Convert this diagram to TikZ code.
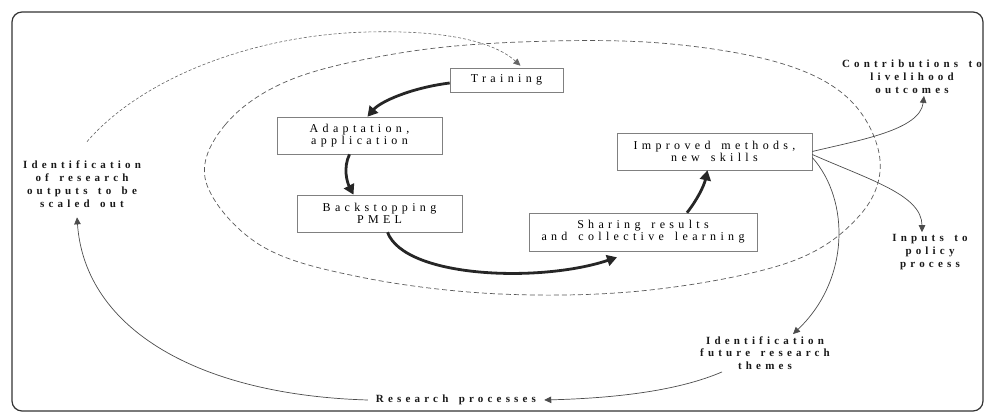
\documentclass[tikz,border=0pt]{standalone}
\usepackage{fontspec}
\setmainfont{Liberation Serif}
\newfontfamily\boxfont[LetterSpace=36,WordSpace=1.5]{Liberation Serif}
\newfontfamily\lblfont[LetterSpace=38,WordSpace=1.5]{Liberation Serif}
\usetikzlibrary{arrows.meta}
\begin{document}
\begin{tikzpicture}[x=1pt,y=-1pt,
  stepbox/.style={draw=black!50, line width=0.6pt, align=center, inner sep=0pt,
    font={\boxfont\fontsize{12}{12}\selectfont}, text=black},
  lbl/.style={align=center, inner sep=2pt,
    font={\lblfont\bfseries\fontsize{11}{12.8}\selectfont}, text=black!90},
  bigarrow/.style={line width=2.8pt, black!85, -{Triangle[length=10pt,width=11pt]}},
  thinarrow/.style={line width=0.7pt, black!70, -{Triangle[length=7pt,width=6.5pt]}},
  ringline/.style={line width=0.7pt, black!65, dash pattern=on 5pt off 3pt},
  outerline/.style={line width=0.6pt, black!60, dash pattern=on 3pt off 2pt, -{Triangle[length=7pt,width=6.5pt]}}
]
\useasboundingbox (0,0) rectangle (985,414);
% frame
\draw[line width=1.2pt, black!80, rounded corners=10pt] (12,12) rectangle (983,411);

% inner dashed ring
\draw[ringline] plot[smooth cycle, tension=0.6] coordinates {
  (206,182) (225,125) (290,80) (400,53) (520,42) (660,43) (780,63) (850,100)
  (880,160) (860,215) (790,262) (650,290) (500,294) (360,277) (260,245)};

% boxes
\node[stepbox, minimum width=113pt, minimum height=24pt] (train) at (506.5,80) {Training};
\node[stepbox, minimum width=165pt, minimum height=37pt] (adapt) at (359.5,135.5) {Adaptation,\\application};
\node[stepbox, minimum width=165pt, minimum height=37pt] (back) at (379.5,213.5) {Backstopping\\PMEL};
\node[stepbox, minimum width=228pt, minimum height=38pt] (share) at (643,232) {Sharing results\\and collective learning};
\node[stepbox, minimum width=195pt, minimum height=37pt] (impr) at (714.5,151.5) {Improved methods,\\new skills};

% labels
\node[lbl] (idr) at (82,184) {Identification\\of research\\outputs to be\\scaled out};
\node[lbl] (contrib) at (912,77) {Contributions to\\livelihood\\outcomes};
\node[lbl] (inputs) at (930,252) {Inputs to\\policy\\process};
\node[lbl] (future) at (765,353) {Identification\\future research\\themes};
\node[lbl, inner xsep=8pt] (rp) at (456,400) {Research processes};

% thick cycle arrows
\draw[bigarrow] ([yshift=-3pt]train.west) .. controls (410,88) and (380,102) .. ([xshift=8pt]adapt.north);
\draw[bigarrow] ([xshift=-10pt]adapt.south) .. controls (343,168) and (347,182) .. ([xshift=-26pt]back.north);
\draw[bigarrow] ([xshift=8pt]back.south) .. controls (405,278) and (540,283) .. ([xshift=-26pt,yshift=-6pt]share.south);
\draw[bigarrow] ([xshift=44pt]share.north) .. controls (697,200) and (704,186) .. ([xshift=-7pt]impr.south);

% outer dashed arc
\draw[outerline] ([xshift=5pt,yshift=17pt]idr.north) .. controls (140,80) and (250,35) .. (367,32)
  .. controls (440,30) and (492,40) .. ([xshift=14pt,yshift=2pt]train.north);

% outputs from improved methods
\draw[thinarrow] (impr.east) .. controls (860,140) and (920,130) .. ([xshift=12pt]contrib.south);
\draw[thinarrow] ([yshift=-3pt]impr.east) .. controls (870,180) and (922,195) .. ([xshift=-8pt]inputs.north);
\draw[thinarrow] ([yshift=-6pt]impr.east) .. controls (850,200) and (850,280) .. ([xshift=28pt]future.north);

% research process loop
\draw[thinarrow] ([xshift=-43pt]future.south) .. controls (680,390) and (620,398) .. (rp.east);
\draw[thinarrow] (rp.west) .. controls (200,395) and (85,330) .. ([xshift=-5pt,yshift=-8pt]idr.south);
\end{tikzpicture}
\end{document}
